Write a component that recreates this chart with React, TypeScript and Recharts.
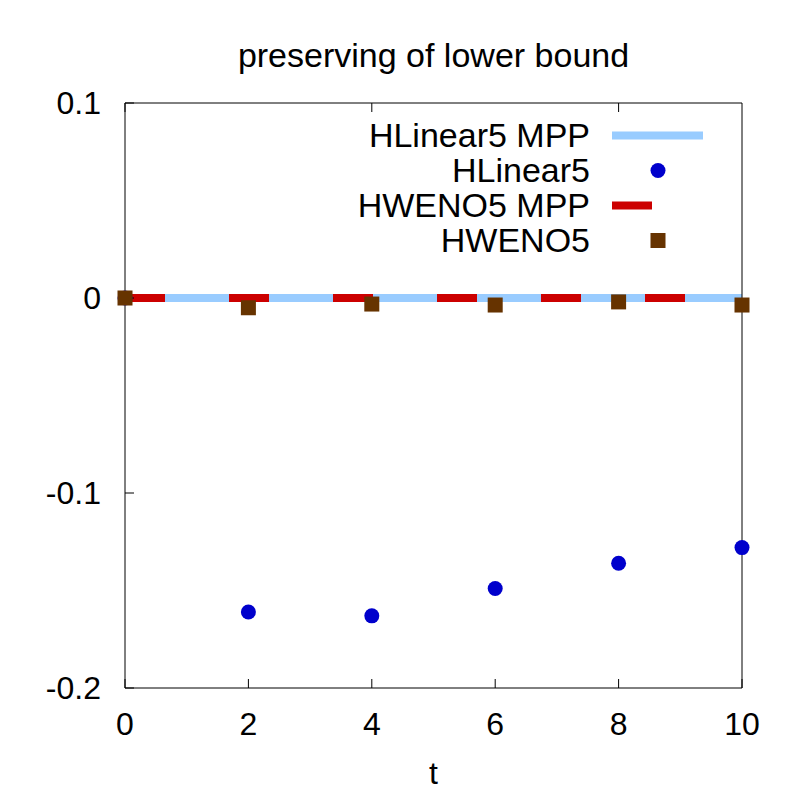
import { ComposedChart, Legend, Line, Scatter, XAxis, YAxis } from "recharts";

// values
const tValues = [0, 2, 4, 6, 8, 10];
const hlinear5Mpp = [0, 0, 0, 0, 0, 0];
const hlinear5 = [0, -0.161, -0.163, -0.149, -0.136, -0.128];
const hweno5Mpp = [0, 0, 0, 0, 0, 0];
const hweno5 = [0, -0.005, -0.0031, -0.0036, -0.002, -0.0036];

const xTicks = [0, 2, 4, 6, 8, 10];
const yTicks = [-0.2, -0.1, 0, 0.1];
const yTickLabels = ["-0.2", "-0.1", "0", "0.1"];

const LIGHT_BLUE = "#99CCFF";
const BLUE = "#0000CC";
const RED = "#CC0000";
const BROWN = "#663300";
const FONT = "'Liberation Sans', Arial, Helvetica, sans-serif";

const legendItems = [
    { name: "HLinear5 MPP", kind: "line", color: LIGHT_BLUE },
    { name: "HLinear5", kind: "circle", color: BLUE },
    { name: "HWENO5 MPP", kind: "dash", color: RED },
    { name: "HWENO5", kind: "square", color: BROWN },
];

const data = tValues.map((t, i) => ({
    t,
    hlinear5Mpp: hlinear5Mpp[i],
    hlinear5: hlinear5[i],
    hweno5Mpp: hweno5Mpp[i],
    hweno5: hweno5[i],
}));

const Dot = (p: any) => <circle cx={p.cx} cy={p.cy} r={7.5} fill={BLUE} />;
const Square = (p: any) => <rect x={p.cx - 7.5} y={p.cy - 7.5} width={15} height={15} fill={BROWN} />;

function KeyBox() {
    return (
        <div style={{ fontFamily: FONT, fontSize: 34, color: "#000" }}>
            {legendItems.map((item) => (
                <div key={item.name} style={{ display: "flex", alignItems: "center", height: 35 }}>
                    <span style={{ width: 250, textAlign: "right", lineHeight: "35px", whiteSpace: "nowrap" }}>{item.name}</span>
                    <svg width={120} height={35}>
                        {item.kind === "line" && <line x1={22} x2={113} y1={17.5} y2={17.5} stroke={item.color} strokeWidth={8} />}
                        {item.kind === "dash" && <line x1={22} x2={62} y1={17.5} y2={17.5} stroke={item.color} strokeWidth={8} />}
                        {item.kind === "circle" && <circle cx={68} cy={17.5} r={7.5} fill={item.color} />}
                        {item.kind === "square" && <rect x={60.5} y={10} width={15} height={15} fill={item.color} />}
                    </svg>
                </div>
            ))}
        </div>
    );
}

export default function App() {
    const tickStyle = { fontSize: 32, fill: "#000", fontFamily: FONT };
    return (
        <div style={{ position: "absolute", top: 0, left: 0, width: 800, height: 800, background: "#fff", fontFamily: FONT }}>
            <div style={{ position: "absolute", top: 38, left: 125, width: 617, textAlign: "center", fontSize: 34, lineHeight: "34px" }}>
                preserving of lower bound
            </div>
            <ComposedChart width={800} height={800} data={data} margin={{ top: 102, right: 57, bottom: 0, left: 0 }}>
                <XAxis
                    dataKey="t"
                    type="number"
                    domain={[0, 10]}
                    ticks={xTicks}
                    tickSize={-9}
                    tickMargin={33}
                    height={112}
                    stroke="#000"
                    tick={tickStyle}
                    label={{ value: "t", position: "insideBottom", offset: 16, style: tickStyle }}
                />
                <XAxis xAxisId="top" orientation="top" type="number" domain={[0, 10]} ticks={xTicks} tickSize={-9} height={1} stroke="#000" tickFormatter={() => ""} />
                <YAxis
                    type="number"
                    domain={[-0.2, 0.1]}
                    ticks={yTicks}
                    tickFormatter={(v: number) => yTickLabels[yTicks.indexOf(v)] ?? String(v)}
                    tickSize={-9}
                    tickMargin={33}
                    width={125}
                    stroke="#000"
                    tick={tickStyle}
                />
                <YAxis yAxisId="right" orientation="right" type="number" domain={[-0.2, 0.1]} ticks={yTicks} tickSize={-9} width={1} stroke="#000" tickFormatter={() => ""} />
                <Line dataKey="hlinear5Mpp" stroke={LIGHT_BLUE} strokeWidth={8} dot={false} isAnimationActive={false} />
                <Scatter dataKey="hlinear5" shape={Dot} isAnimationActive={false} />
                <Line dataKey="hweno5Mpp" stroke={RED} strokeWidth={8} strokeDasharray="40 64" dot={false} isAnimationActive={false} />
                <Scatter dataKey="hweno5" shape={Square} isAnimationActive={false} />
                <Legend
                    layout="horizontal"
                    verticalAlign="middle"
                    align="center"
                    content={() => <KeyBox />}
                    wrapperStyle={{ top: 117.5, left: 340, width: 400, right: "auto", bottom: "auto" }}
                />
            </ComposedChart>
        </div>
    );
}
